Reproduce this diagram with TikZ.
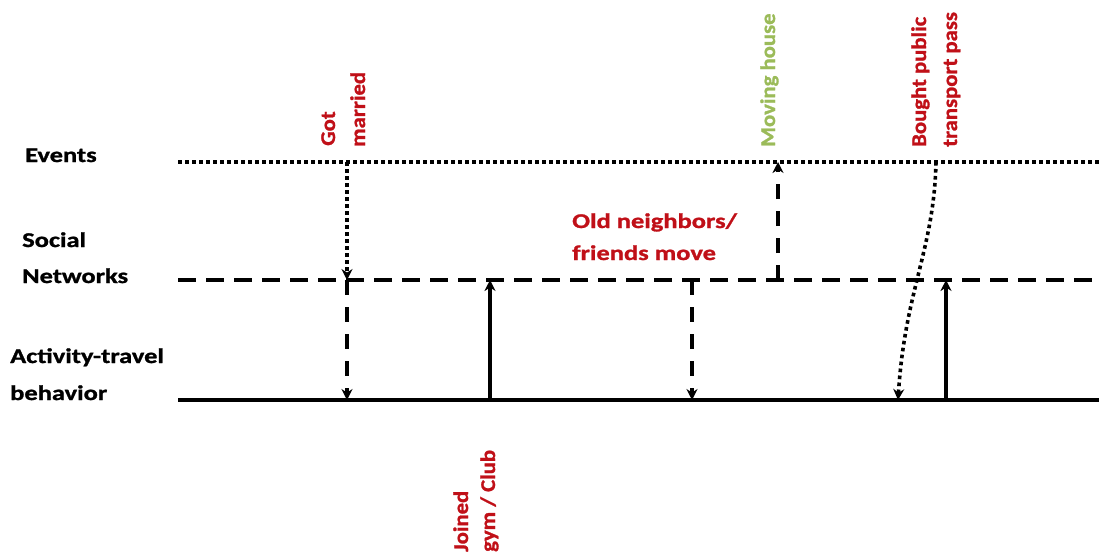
\documentclass[tikz,border=0pt]{standalone}
\usepackage{fontspec}
\setmainfont{Carlito}
\newfontfamily\hfont{Carlito}[FakeStretch=1.26,FakeBold=1.2]
\newfontfamily\vfont{Carlito}[FakeStretch=1.08,FakeBold=1.2]
\usetikzlibrary{arrows.meta}
\definecolor{lblred}{RGB}{192,16,24}
\definecolor{lblgreen}{RGB}{155,187,89}
\tikzset{
  hlab/.style={inner sep=0pt, anchor=base west, font=\hfont\bfseries\fontsize{21}{30}\selectfont},
  vlab/.style={inner sep=0pt, anchor=base west, rotate=90, font=\vfont\bfseries\fontsize{21}{30}\selectfont},
  dotline/.style={line width=3.6pt, dash pattern=on 3.6pt off 3.4pt},
  dashline/.style={line width=3.6pt, dash pattern=on 18pt off 10pt},
  dashv/.style={line width=3.6pt, dash pattern=on 15pt off 12pt},
  solidline/.style={line width=3.6pt},
  tip/.style={-{Stealth[length=11pt,width=11pt]}},
}
\begin{document}
\begin{tikzpicture}[x=1pt,y=-1pt]
\useasboundingbox (0,0) rectangle (1099,557);
% axis coordinates
\coordinate (E0) at (178,162);
\coordinate (E1) at (1099,162);
\coordinate (S0) at (178,280);
\coordinate (S1) at (1099,280);
\coordinate (A0) at (178,400);
\coordinate (A1) at (1099,400);
% horizontal lines
\draw[dotline] (E0) -- (E1);
\draw[dashline] (S0) -- (S1);
\draw[solidline] (A0) -- (A1);
% connector coordinates
\coordinate (gmE) at (347,162);
\coordinate (gmS) at (347,280);
\coordinate (gmA) at (347,400);
\coordinate (jgA) at (490,400);
\coordinate (jgS) at (490,280);
\coordinate (onS) at (692,280);
\coordinate (onA) at (692,400);
\coordinate (mhS) at (778,280);
\coordinate (mhE) at (778,162);
\coordinate (bpE) at (936,162);
\coordinate (bpA) at (898,400);
\coordinate (tpA) at (946,400);
\coordinate (tpS) at (946,280);
% connectors
\draw[dotline,tip] (gmE) -- (gmS);
\draw[dashv,tip] (gmS) -- (gmA);
\draw[solidline,tip] (jgA) -- (jgS);
\draw[dashv,tip] (onS) -- (onA);
\draw[dashv,tip] (mhS) -- (mhE);
\draw[dotline,tip] (bpE) .. controls (934,250) and (905,290) .. (bpA);
\draw[solidline,tip] (tpA) -- (tpS);
% left labels
\node[hlab] (ev) at (25,162) {Events};
\node[hlab] (sn1) at (22,247) {Social};
\node[hlab] (sn2) at (22,283) {Networks};
\node[hlab] (at1) at (10,363) {Activity-travel};
\node[hlab] (at2) at (10,400) {behavior};
% event labels
\node[vlab,text=lblred] (got1) at (335,146) {Got};
\node[vlab,text=lblred] (got2) at (365,147) {married};
\node[hlab,text=lblred] (on1) at (572,228) {Old neighbors/};
\node[hlab,text=lblred] (on2) at (572,260) {friends move};
\node[vlab,text=lblgreen] (mh) at (775,147) {Moving house};
\node[vlab,text=lblred] (bp1) at (926,147) {Bought public};
\node[vlab,text=lblred] (bp2) at (957,147) {transport pass};
\node[vlab,text=lblred] (jg1) at (468,552) {Joined};
\node[vlab,text=lblred] (jg2) at (495,552) {gym / Club};
\end{tikzpicture}
\end{document}
